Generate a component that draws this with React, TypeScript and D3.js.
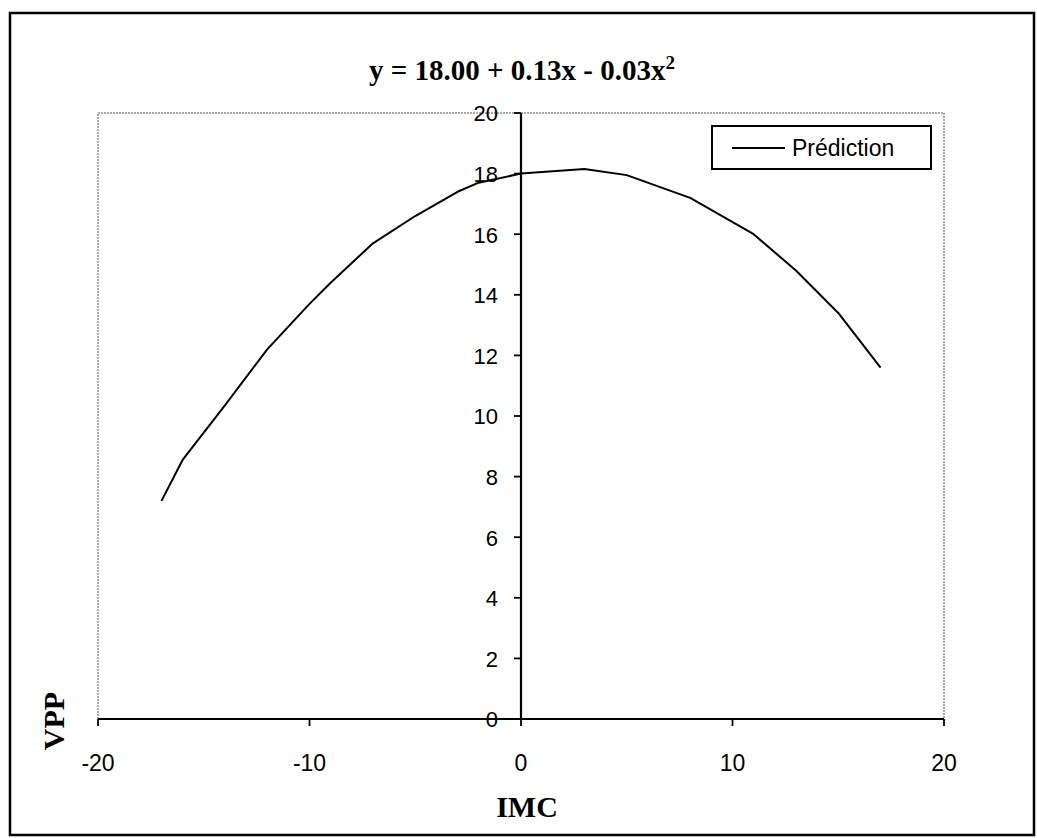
import React from "react";
import * as d3 from "d3";

// Predicted VPP against centred IMC
const imcValues = [-17, -16, -14, -12, -10, -9, -7, -5, -3, -2, 0, 3, 5, 8, 11, 13, 15, 17];
const vppPredicted = [7.2, 8.55, 10.35, 12.2, 13.7, 14.4, 15.7, 16.6, 17.4, 17.7, 18.0, 18.15, 17.95, 17.2, 16.0, 14.8, 13.4, 11.6];

const xTicks = [-20, -10, 0, 10, 20];
const yTicks = [0, 2, 4, 6, 8, 10, 12, 14, 16, 18, 20];

const seriesName = "Prédiction";
const xTitle = "IMC";
const yTitle = "VPP";

const W = 1037;
const H = 838;
const plot = { left: 98, right: 944, top: 113, bottom: 719 };

export default function App() {
  const x = d3.scaleLinear().domain([-20, 20]).range([plot.left, plot.right]);
  const y = d3.scaleLinear().domain([0, 20]).range([plot.bottom, plot.top]);
  const line = d3
    .line<number>()
    .x((_, i) => x(imcValues[i]))
    .y((d) => y(d));

  const sans = "Arial, 'Liberation Sans', sans-serif";
  const serif = "'Times New Roman', 'Liberation Serif', serif";
  const x0 = x(0);

  return (
    <svg
      width={W}
      height={H}
      style={{ position: "absolute", left: 0, top: 0, background: "#fff" }}
    >
      <rect x={0} y={0} width={W} height={H} fill="#fff" />
      {/* outer frame */}
      <rect x={10} y={13} width={1024} height={822} fill="none" stroke="#000" strokeWidth={2.5} />

      {/* title */}
      <text
        x={522}
        y={80}
        textAnchor="middle"
        fontFamily={serif}
        fontWeight="bold"
        fontSize={29}
      >
        y = 18.00 + 0.13x - 0.03x
        <tspan fontSize={19} dy={-11}>2</tspan>
      </text>

      {/* plot area edges */}
      <path
        d={`M${plot.left},${plot.bottom}V${plot.top}H${plot.right}V${plot.bottom}`}
        fill="none"
        stroke="#555"
        strokeWidth={1}
        strokeDasharray="2,1"
      />

      {/* x axis */}
      <line x1={plot.left} x2={plot.right} y1={y(0)} y2={y(0)} stroke="#000" strokeWidth={2.2} />
      {xTicks.map((t) => (
        <g key={`xt${t}`}>
          <line x1={x(t)} x2={x(t)} y1={y(0)} y2={y(0) + 7} stroke="#000" strokeWidth={1.8} />
          <text x={x(t)} y={771} textAnchor="middle" fontFamily={sans} fontSize={23}>
            {t}
          </text>
        </g>
      ))}

      {/* y axis crossing at x = 0 */}
      <line x1={x0} x2={x0} y1={plot.top} y2={plot.bottom} stroke="#000" strokeWidth={2.2} />
      {yTicks.map((t) => (
        <g key={`yt${t}`}>
          <line x1={x0 - 7} x2={x0} y1={y(t)} y2={y(t)} stroke="#000" strokeWidth={1.8} />
          <text
            x={x0 - 23}
            y={y(t)}
            dy="0.38em"
            textAnchor="end"
            fontFamily={sans}
            fontSize={22}
          >
            {t}
          </text>
        </g>
      ))}

      {/* prediction curve */}
      <path d={line(vppPredicted) ?? ""} fill="none" stroke="#000" strokeWidth={2} strokeLinejoin="round" />

      {/* legend */}
      <rect x={712} y={126} width={219} height={43} fill="#fff" stroke="#000" strokeWidth={2} />
      <line x1={732} x2={785} y1={148} y2={148} stroke="#000" strokeWidth={2} />
      <text x={792} y={148} dy="0.36em" fontFamily={sans} fontSize={23}>
        {seriesName}
      </text>

      {/* axis titles */}
      <text x={527} y={817} textAnchor="middle" fontFamily={serif} fontWeight="bold" fontSize={30}>
        {xTitle}
      </text>
      <text
        transform={`translate(64,721) rotate(-90)`}
        textAnchor="middle"
        fontFamily={serif}
        fontWeight="bold"
        fontSize={30}
      >
        {yTitle}
      </text>
    </svg>
  );
}
